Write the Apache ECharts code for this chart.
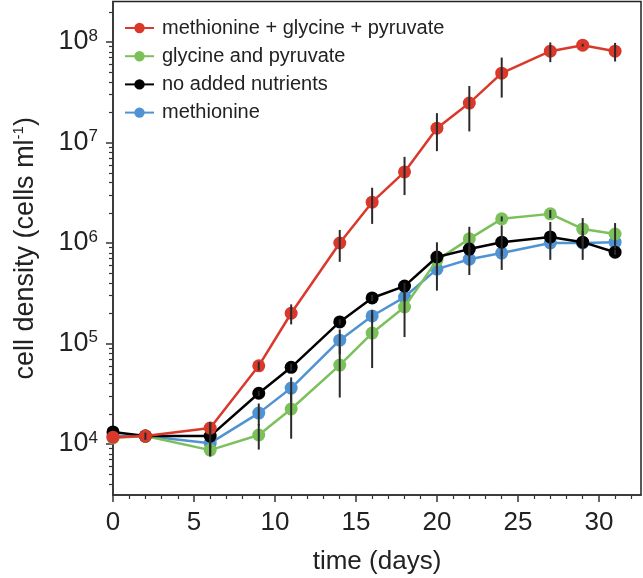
<!DOCTYPE html>
<html>
<head>
<meta charset="utf-8">
<script src="https://cdn.jsdelivr.net/npm/echarts@6/dist/echarts.min.js"></script>
<style>
html,body{margin:0;padding:0;background:#fff;}
#chart{width:643px;height:578px;}
</style>
</head>
<body>
<div id="chart"></div>
<script>
// ---- data ----
const days = [0, 2, 6, 9, 11, 14, 16, 18, 20, 22, 24, 27, 29, 31];
const seriesNames = ['methionine + glycine + pyruvate', 'glycine and pyruvate', 'no added nutrients', 'methionine'];
const redVals   = [1.17e4, 1.2e4, 1.44e4, 6.0e4, 2.0e5, 1.0e6, 2.55e6, 5.1e6, 1.39e7, 2.47e7, 4.9e7, 8.1e7, 9.3e7, 8.1e7];
const redErr    = [0, 1e3, 2e3, 6e3, 4.5e4, 3.5e5, 1.0e6, 2.1e6, 5.7e6, 1.18e7, 2.1e7, 1.8e7, 3e6, 1.7e7];
const greenVals = [1.15e4, 1.2e4, 8.7e3, 1.23e4, 2.23e4, 6.1e4, 1.27e5, 2.31e5, 6.76e5, 1.1e6, 1.74e6, 1.95e6, 1.38e6, 1.23e6];
const greenErr  = [0, 0, 1e3, 3.5e3, 1.1e4, 3.2e4, 7e4, 1.15e5, 3.4e5, 3.5e5, 1e5, 1.8e5, 3.9e5, 3.5e5];
const blackVals = [1.32e4, 1.2e4, 1.2e4, 3.2e4, 5.8e4, 1.64e5, 2.84e5, 3.73e5, 7.26e5, 8.7e5, 1.02e6, 1.15e6, 1.02e6, 8.1e5];
const blackErr  = [0, 0, 4.5e3, 2e3, 5e3, 1e4, 2e4, 3e4, 5e4, 5e4, 4.8e5, 4.7e5, 1e5, 5e4];
const blueVals  = [1.2e4, 1.2e4, 1.02e4, 2.03e4, 3.6e4, 1.08e5, 1.88e5, 2.9e5, 5.5e5, 6.9e5, 7.95e5, 1.0e6, 1.0e6, 1.02e6];
const blueErr   = [0, 0, 1e3, 5e3, 1.0e4, 3e4, 2.7e4, 3e4, 5e4, 2.1e5, 5e4, 5e4, 3.2e5, 5e4];
const xMajorTicks = [0, 5, 10, 15, 20, 25, 30];
const xMinorTicks = [1,2,3,4,6,7,8,9,11,12,13,14,16,17,18,19,21,22,23,24,26,27,28,29,31,32];
const yMajorTicks = [1e4, 1e5, 1e6, 1e7, 1e8];
const yMinorTicks = [4e3,5e3,6e3,7e3,8e3,9e3,
  2e4,3e4,4e4,5e4,6e4,7e4,8e4,9e4,
  2e5,3e5,4e5,5e5,6e5,7e5,8e5,9e5,
  2e6,3e6,4e6,5e6,6e6,7e6,8e6,9e6,
  2e7,3e7,4e7,5e7,6e7,7e7,8e7,9e7,
  2e8];
const X_MIN = 0, X_MAX = 32.6, Y_MIN = 3110, Y_MAX = 2.53e8;

const colors = { red: '#d9382b', green: '#7cc05c', black: '#000000', blue: '#4f93d3' };
const FONT = "'Liberation Sans', Arial, Helvetica, sans-serif";

function pairs(vals) { return days.map((d, i) => [d, vals[i]]); }
const errData = [];
[[blueVals, blueErr], [greenVals, greenErr], [blackVals, blackErr], [redVals, redErr]].forEach(([v, e]) => {
  days.forEach((d, i) => { if (e[i] > 0) errData.push([d, v[i], e[i]]); });
});

function lineSeries(name, vals, color, z) {
  return {
    type: 'line', name: name, data: pairs(vals),
    xAxisIndex: 0, yAxisIndex: 0,
    symbol: 'circle', symbolSize: 13,
    lineStyle: { color: color, width: 2.5 },
    itemStyle: { color: color },
    z: z, animation: false
  };
}

const chart = echarts.init(document.getElementById('chart'), null, { renderer: 'canvas' });
const option = {
  animation: false,
  backgroundColor: '#fff',
  textStyle: { fontFamily: FONT },
  grid: { left: 113, top: 1.5, right: 2, bottom: 83, show: true, borderColor: '#222', borderWidth: 1.5,
          backgroundColor: '#fff', containLabel: false, outerBoundsMode: 'none' },
  legend: {
    orient: 'vertical', left: 124, top: 18, padding: 0,
    itemWidth: 29, itemHeight: 13, itemGap: 8.2,
    data: seriesNames,
    textStyle: { fontSize: 20, color: '#222', fontFamily: FONT, padding: [0, 0, 0, 3] }
  },
  xAxis: [{
    type: 'value', min: X_MIN, max: X_MAX,
    name: 'time (days)', nameLocation: 'middle', nameGap: 54,
    nameTextStyle: { fontSize: 26, color: '#222', fontFamily: FONT },
    axisLine: { lineStyle: { color: '#333', width: 1.5 } },
    axisTick: { inside: false, length: 7, lineStyle: { color: '#333', width: 1.5 }, customValues: xMajorTicks },
    axisLabel: { fontSize: 26, color: '#222', margin: 15, customValues: xMajorTicks, fontFamily: FONT },
    splitLine: { show: false }
  }, {
    type: 'value', min: X_MIN, max: X_MAX, position: 'bottom',
    axisLine: { show: false },
    axisTick: { inside: false, length: 4, lineStyle: { color: '#333', width: 1.2 }, customValues: xMinorTicks },
    axisLabel: { show: false },
    splitLine: { show: false }
  }],
  yAxis: [{
    type: 'log', logBase: 10, min: Y_MIN, max: Y_MAX,
    name: '{a|cell density (cells ml}{s|-1}{a|)}', nameLocation: 'middle', nameGap: 72, nameRotate: 90,
    nameTextStyle: {
      color: '#222', fontFamily: FONT,
      rich: {
        a: { fontSize: 27, fontFamily: FONT, color: '#222', lineHeight: 30 },
        s: { fontSize: 15, fontFamily: FONT, color: '#222', verticalAlign: 'top', lineHeight: 18 }
      }
    },
    axisLine: { lineStyle: { color: '#333', width: 1.5 } },
    axisTick: { inside: false, length: 7, lineStyle: { color: '#333', width: 1.5 }, customValues: yMajorTicks },
    axisLabel: {
      margin: 15, customValues: yMajorTicks,
      formatter: function (v) { return '{b|10}{s|' + Math.round(Math.log10(v)) + '}'; },
      rich: {
        b: { fontSize: 27, fontFamily: FONT, color: '#222', lineHeight: 29 },
        s: { fontSize: 17, fontFamily: FONT, color: '#222', verticalAlign: 'top', lineHeight: 16 }
      }
    },
    splitLine: { show: false }
  }, {
    type: 'log', logBase: 10, min: Y_MIN, max: Y_MAX, position: 'left',
    axisLine: { show: false },
    axisTick: { inside: false, length: 4, lineStyle: { color: '#333', width: 1.2 }, customValues: yMinorTicks },
    axisLabel: { show: false },
    splitLine: { show: false }
  }],
  series: [
    lineSeries(seriesNames[3], blueVals, colors.blue, 2),
    lineSeries(seriesNames[1], greenVals, colors.green, 3),
    lineSeries(seriesNames[2], blackVals, colors.black, 4),
    lineSeries(seriesNames[0], redVals, colors.red, 5),
    {
      type: 'custom', name: 'errorbars', data: errData, z: 10,
      xAxisIndex: 0, yAxisIndex: 0,
      encode: { x: 0, y: 1 },
      renderItem: function (params, api) {
        const x = api.value(0), y = api.value(1), e = api.value(2);
        const lo = Math.max(y - e, Y_MIN);
        const p1 = api.coord([x, y + e]);
        const p2 = api.coord([x, lo]);
        return { type: 'line', shape: { x1: p1[0], y1: p1[1], x2: p2[0], y2: p2[1] },
                 style: { stroke: '#2a2a2a', lineWidth: 2 } };
      },
      animation: false
    }
  ]
};
chart.setOption(option);
</script>
</body>
</html>
